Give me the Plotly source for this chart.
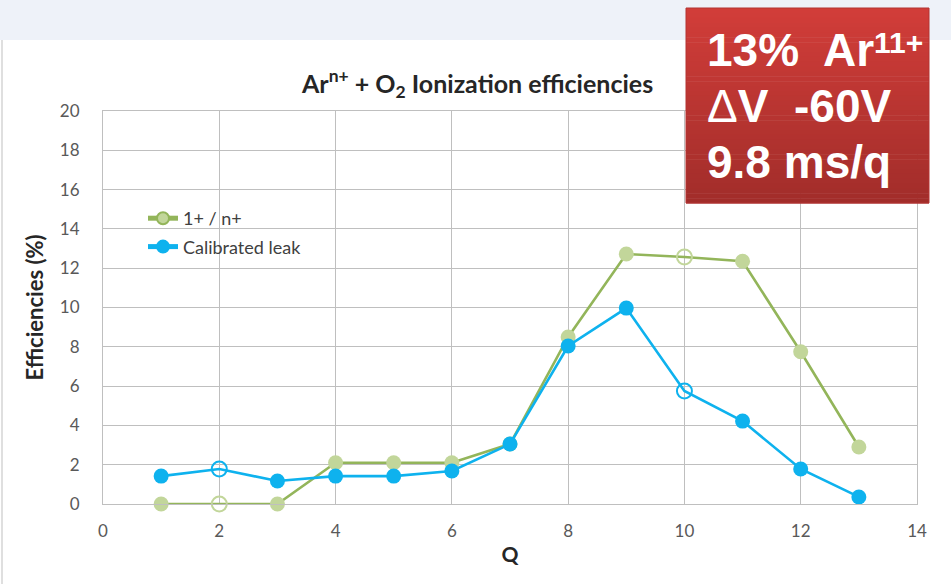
import plotly.graph_objects as go

# Charge state Q of the Ar ions
charge_q = [1, 2, 3, 4, 5, 6, 7, 8, 9, 10, 11, 12, 13]
# Ionization efficiencies (%) for the two methods
eff_ratio = [0.0, 0.0, 0.0, 2.1, 2.1, 2.1, 3.05, 8.5, 12.72, 12.57, 12.35, 7.75, 2.9]
eff_leak = [1.42, 1.78, 1.17, 1.42, 1.42, 1.68, 3.05, 8.04, 9.97, 5.75, 4.22, 1.78, 0.36]
# points drawn as hollow circles
hollow_q = [2, 10]

W, H = 951, 584
L, R, T, B = 103, 917, 111, 504   # plot area in pixels


def px(x):
    return (x - L) / (R - L)


def py(y):
    return (B - y) / (B - T)


GREEN_LINE = "#93b55a"
GREEN_MARK = "#c2d69a"
BLUE = "#0eb2ee"
FONT = "Lato, Open Sans, sans-serif"


def symbols(qs):
    return ["circle-open" if q in hollow_q else "circle" for q in qs]


fig = go.Figure()
fig.add_trace(go.Scatter(
    x=charge_q, y=eff_ratio, mode="lines+markers", name="1+ / n+",
    legendgroup="a", cliponaxis=False,
    line=dict(color=GREEN_LINE, width=2.6),
    marker=dict(size=15, color=GREEN_MARK, symbol=symbols(charge_q),
                line=dict(color=GREEN_LINE, width=[2 if q in hollow_q else 0 for q in charge_q])),
))
fig.add_trace(go.Scatter(
    x=charge_q, y=eff_leak, mode="lines+markers", name="Calibrated leak",
    legendgroup="b", cliponaxis=False,
    line=dict(color=BLUE, width=2.6),
    marker=dict(size=15, color=BLUE, symbol=symbols(charge_q),
                line=dict(color=BLUE, width=[2 if q in hollow_q else 0 for q in charge_q])),
))

shapes = []
# light band across the top of the page
shapes.append(dict(type="rect", xref="paper", yref="paper", layer="below",
                   x0=px(0), x1=px(W), y0=py(40), y1=py(0),
                   fillcolor="#eef2f9", line=dict(width=0)))
# thin page edge on the left
shapes.append(dict(type="line", xref="paper", yref="paper",
                   x0=px(2), x1=px(2), y0=py(40), y1=py(H),
                   line=dict(color="#d4d4d4", width=1.5)))

# red callout box, shaded from top to bottom
bx0, bx1, by0, by1 = 686, 929, 8, 203
top_c = (0xd1, 0x3d, 0x39)
bot_c = (0xa2, 0x2d, 0x2a)
n = 40
for i in range(n):
    t = i / (n - 1)
    c = tuple(round(top_c[k] + (bot_c[k] - top_c[k]) * t) for k in range(3))
    ya = by0 + (by1 - by0) * i / n
    yb = by0 + (by1 - by0) * (i + 1) / n + 0.6
    shapes.append(dict(type="rect", xref="paper", yref="paper",
                       x0=px(bx0), x1=px(bx1), y0=py(yb), y1=py(ya),
                       fillcolor="rgb(%d,%d,%d)" % c, line=dict(width=0)))
shapes.append(dict(type="rect", xref="paper", yref="paper",
                   x0=px(bx0), x1=px(bx1), y0=py(by1), y1=py(by0),
                   line=dict(color="#b33532", width=1)))

annotations = []
box_family = "Liberation Sans, Arial, sans-serif"
box_font = dict(family=box_family, size=46, color="white")
for txt, ymid in [("<b>13%  Ar</b>", 50),
                  ("Δ<b>V  -60V</b>", 106),
                  ("<b>9.8 ms/q</b>", 162)]:
    annotations.append(dict(text=txt, xref="paper", yref="paper", x=px(705), y=py(ymid),
                            xanchor="left", yanchor="middle", showarrow=False,
                            font=box_font))
# charge-state superscript on the first line
annotations.append(dict(text="<b>11+</b>", xref="paper", yref="paper", x=px(872), y=py(42),
                        xanchor="left", yanchor="middle", showarrow=False,
                        font=dict(family=box_family, size=30, color="white")))

annotations.append(dict(text="<b>Ar<sup>n+</sup> + O<sub>2</sub> Ionization efficiencies</b>",
                        xref="paper", yref="paper", x=px(477), y=py(83),
                        xanchor="center", yanchor="middle", showarrow=False,
                        font=dict(family=FONT, size=25, color="#262626")))

fig.update_layout(
    width=W, height=H,
    margin=dict(l=L, r=W - R, t=T, b=H - B, pad=0),
    paper_bgcolor="white", plot_bgcolor="white",
    shapes=shapes, annotations=annotations,
    showlegend=True,
    legend=dict(x=px(143), y=py(200), xanchor="left", yanchor="top",
                bgcolor="rgba(0,0,0,0)", tracegroupgap=2, itemwidth=30,
                itemsizing="constant",
                font=dict(family=FONT, size=18, color="#404040")),
    xaxis=dict(range=[0, 14], dtick=2, tick0=0, showgrid=True, gridcolor="#bfbfbf",
               gridwidth=1.2, zeroline=False, showline=True, linecolor="#bfbfbf",
               linewidth=1.2, mirror=True, ticks="", ticklabelstandoff=11,
               tickfont=dict(family=FONT, size=17, color="#595959"),
               title=dict(text="<b>Q</b>", standoff=7,
                          font=dict(family=FONT, size=21, color="#262626"))),
    yaxis=dict(range=[0, 20], dtick=2, tick0=0, showgrid=True, gridcolor="#bfbfbf",
               gridwidth=1.2, zeroline=False, showline=True, linecolor="#bfbfbf",
               linewidth=1.2, mirror=True, ticks="", ticklabelstandoff=19,
               tickfont=dict(family=FONT, size=17, color="#595959"),
               title=dict(text="<b>Efficiencies (%)</b>", standoff=10,
                          font=dict(family=FONT, size=22, color="#262626"))),
)

fig.write_html("out.html")
